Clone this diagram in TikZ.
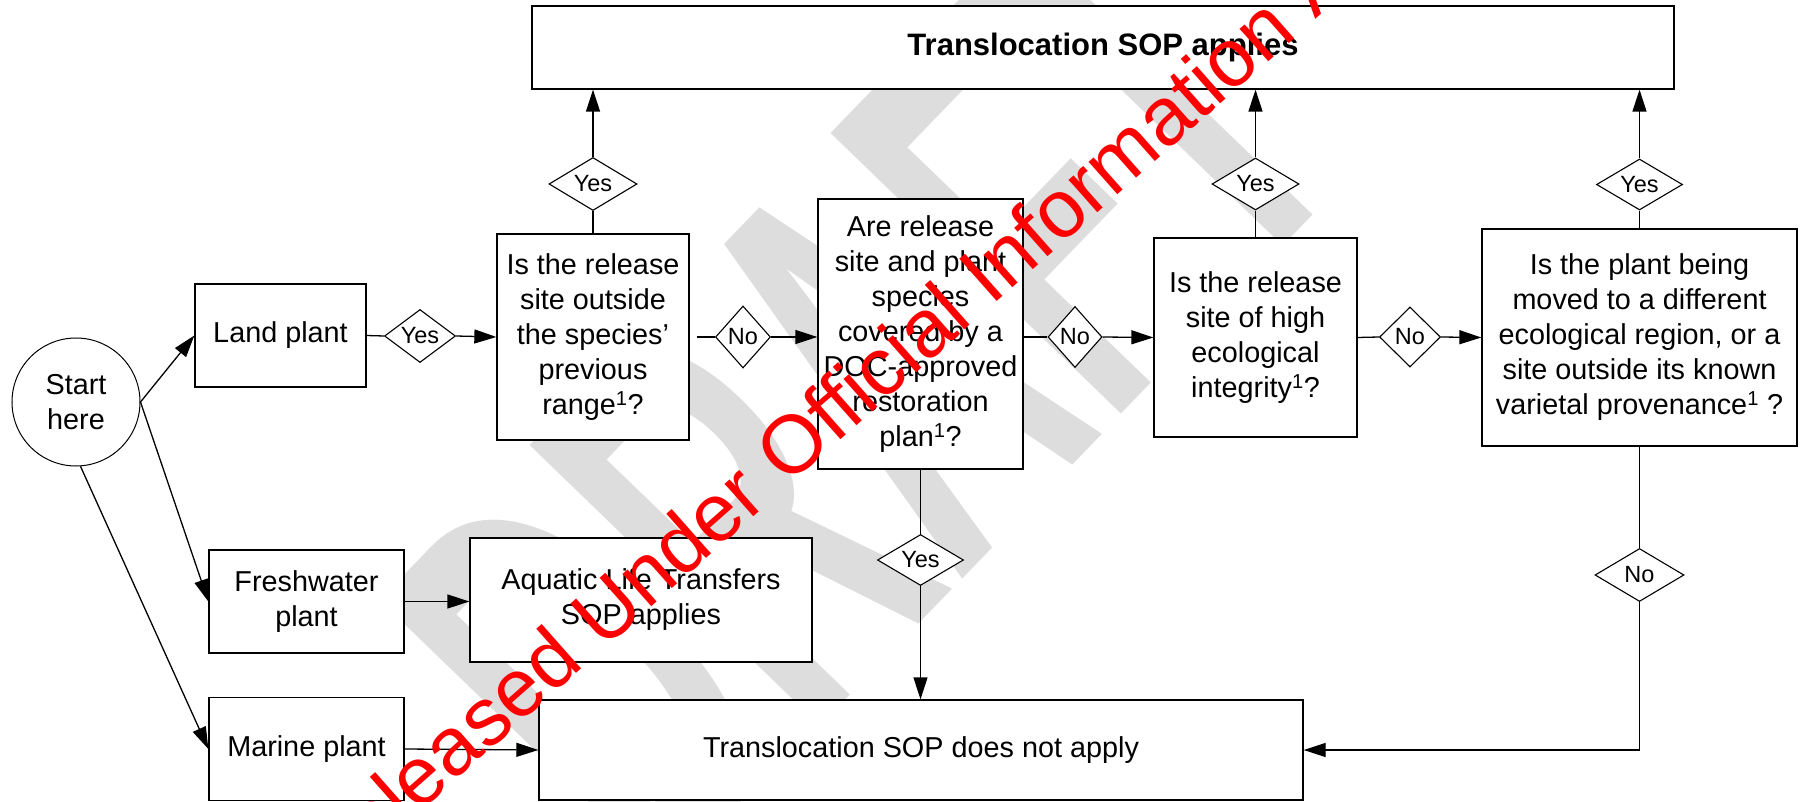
\documentclass[tikz,border=0pt]{standalone}
\usepackage{fontspec}
\setmainfont{Liberation Sans}
\usetikzlibrary{shapes.geometric,arrows.meta}
\definecolor{wmgrey}{RGB}{221,221,221}
\begin{document}
\begin{tikzpicture}[x=1pt,y=-1pt,
  box/.style={draw, fill=white, line width=1.3pt, inner sep=0pt, align=center,
    font=\fontsize{28.8}{35}\selectfont},
  dec/.style 2 args={shape=diamond, draw, fill=white, line width=1.1pt, inner sep=0pt,
    aspect=1, minimum width=#1, minimum height=#2, font=\fontsize{23.5}{28}\selectfont},
  link/.style={line width=1.3pt},
  arr/.style={line width=1.3pt, -{Triangle[length=22pt,width=14pt]}},
]
\useasboundingbox (0,0) rectangle (1802,802);

% background draft mark
\begin{scope}
  \clip (0,0) rectangle (1802,802);
  \node[anchor=base west, rotate=46, inner sep=0pt, text=wmgrey,
        font=\fontsize{587}{600}\selectfont\bfseries] (draftmark) at (656,896)
    {\scalebox{0.511}[1]{DRAFT}};
\end{scope}

% start and the three kinds of plant
\node[box, circle, line width=1pt, minimum size=128pt] (start) at (76,402) {Start\\here};
\node[box, minimum width=171pt, minimum height=103pt] (land) at (280.5,335.5) {Land plant};
\node[box, minimum width=195pt, minimum height=103pt] (fresh) at (306.5,601.5) {Freshwater\\plant};
\node[box, minimum width=195pt, minimum height=103pt] (marine) at (306.5,749) {Marine plant};
\node[box, minimum width=342pt, minimum height=124pt] (aquatic) at (641,600) {Aquatic Life Transfers\\SOP applies};

% outcomes
\node[box, minimum width=1142pt, minimum height=83pt, font=\fontsize{31}{36}\selectfont\bfseries]
  (sopyes) at (1103,47.5) {Translocation SOP applies};
\node[box, minimum width=764pt, minimum height=100pt] (sopno) at (921,750) {Translocation SOP does not apply};

% questions
\node[box, minimum width=192pt, minimum height=206pt] (q1) at (593,337)
  {Is the release\\site outside\\the species’\\previous\\range\textsuperscript{1}?};
\node[box, minimum width=205pt, minimum height=270pt] (q2) at (920.5,334)
  {Are release\\site and plant\\species\\covered by a\\DOC-approved\\restoration\\plan\textsuperscript{1}?};
\node[box, minimum width=203pt, minimum height=199pt] (q3) at (1255.5,337.5)
  {Is the release\\site of high\\ecological\\integrity\textsuperscript{1}?};
\node[box, minimum width=315pt, minimum height=217pt] (q4) at (1639.5,337.5)
  {Is the plant being\\moved to a different\\ecological region, or a\\site outside its known\\varietal provenance\textsuperscript{1} ?};

% answer labels
\node[dec={71pt}{53pt}] (yl) at (420,336) {\makebox[0pt]{Yes}};
\node[dec={55pt}{62pt}] (n1) at (743,337) {\makebox[0pt]{No}};
\node[dec={54pt}{61pt}] (n2) at (1075,337) {\makebox[0pt]{No}};
\node[dec={61pt}{60pt}] (n3) at (1410,337) {\makebox[0pt]{No}};
\node[dec={88pt}{53pt}] (y1) at (593,184) {\makebox[0pt]{Yes}};
\node[dec={87pt}{52pt}] (y3) at (1255.5,184) {\makebox[0pt]{Yes}};
\node[dec={86pt}{51pt}] (y4) at (1639.5,184.5) {\makebox[0pt]{Yes}};
\node[dec={86pt}{51pt}] (y2) at (920.5,560) {\makebox[0pt]{Yes}};
\node[dec={89pt}{53pt}] (n4) at (1639.5,575) {\makebox[0pt]{No}};

% connectors from the start
\draw[arr] (start.east) -- (land.west);
\draw[arr] (start.east) -- (fresh.west);
\draw[arr] (start.-86) -- (marine.west);
\draw[arr] (fresh.east) -- (fresh.east -| aquatic.west);
\draw[arr] (marine.east) -- (sopno.west);

% main row
\draw[link] (land.east) -- (yl.west);
\draw[arr] (yl.east) -- (q1.west);
\draw[link, shorten <=7pt] (q1.east) -- (n1.west);
\draw[arr] (n1.east) -- (n1.east -| q2.west);
\draw[link] (q2.east |- n2.west) -- (n2.west);
\draw[arr] (n2.east) -- (q3.west);
\draw[link] (q3.east) -- (n3.west);
\draw[arr] (n3.east) -- (q4.west);

% yes branches up to the top outcome
\draw[link] (q1.north) -- (y1.south);
\draw[arr] (y1.north) -- (y1.north |- sopyes.south);
\draw[link] (q3.north) -- (y3.south);
\draw[arr] (y3.north) -- (y3.north |- sopyes.south);
\draw[link] (q4.north) -- (y4.south);
\draw[arr] (y4.north) -- (y4.north |- sopyes.south);

% branches down to the bottom outcome
\draw[link] (q2.south) -- (y2.north);
\draw[arr] (y2.south) -- (y2.south |- sopno.north);
\draw[link] (q4.south) -- (n4.north);
\draw[arr] (n4.south) |- (sopno.east);

% release stamp
\begin{scope}
  \clip (0,0) rectangle (1802,802);
  \node[font=\fontsize{82}{82}\selectfont, text=red, rotate=41.5, inner sep=0pt] (stamp) at (846,396)
    {Released Under Official Information Act};
\end{scope}
\end{tikzpicture}
\end{document}
